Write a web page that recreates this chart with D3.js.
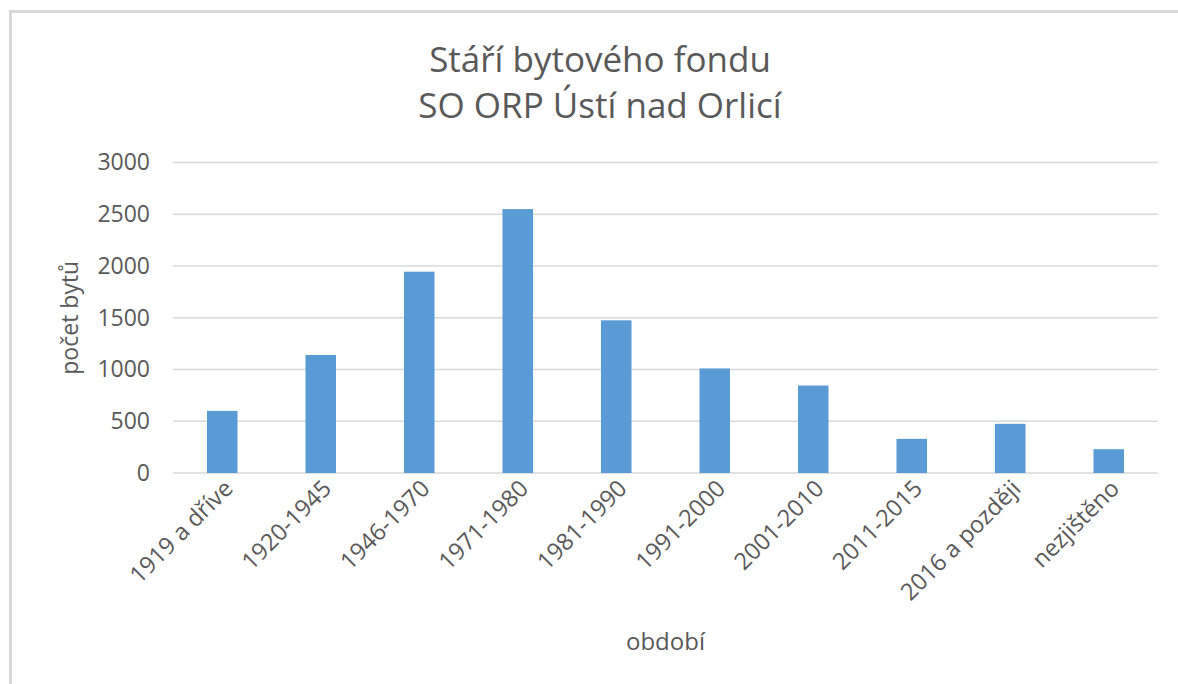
<!DOCTYPE html>
<html><head><meta charset="utf-8">
<script src="https://cdn.jsdelivr.net/npm/d3@7"></script>
<style>body{margin:0;background:#fff;} svg{display:block;} text{font-family:"Open Sans",sans-serif;fill:#595959;}</style>
</head><body>
<svg id="c" width="1178" height="684"></svg>
<script>
const categories = ["1919 a dříve","1920-1945","1946-1970","1971-1980","1981-1990","1991-2000","2001-2010","2011-2015","2016 a později","nezjištěno"];
const values = [600, 1140, 1945, 2550, 1475, 1010, 845, 330, 475, 230];
const yTicks = [0, 500, 1000, 1500, 2000, 2500, 3000];
const titleLines = ["Stáří bytového fondu", "SO ORP Ústí nad Orlicí"];
const yTitle = "počet bytů";
const xTitle = "období";

const svg = d3.select("#c");
svg.append("rect").attr("x",10.5).attr("y",11.5).attr("width",1200).attr("height",700)
  .attr("fill","#fff").attr("stroke","#d9d9d9").attr("stroke-width",3);

const L=173, R=1158, T=162.5, B=473;
const x = d3.scaleBand().domain(categories).range([L,R]).paddingInner(0.69).paddingOuter(0.345);
const y = d3.scaleLinear().domain([0,3000]).range([B,T]);

// gridlines
svg.append("g").selectAll("line").data(yTicks).join("line")
  .attr("x1",L).attr("x2",R).attr("y1",d=>y(d)).attr("y2",d=>y(d))
  .attr("stroke","#d9d9d9").attr("stroke-width",1.5);

// y axis labels
const yAxis = d3.axisLeft(y).tickValues(yTicks).tickSize(0).tickPadding(0).tickFormat(d3.format("d"));
const ya = svg.append("g").attr("transform",`translate(150,0)`).call(yAxis);
ya.select(".domain").remove();
ya.selectAll("text").attr("font-size",23).attr("fill","#595959").attr("font-family","Open Sans");

// bars
svg.append("g").selectAll("rect").data(values).join("rect")
  .attr("x",(d,i)=>x(categories[i])).attr("width",x.bandwidth())
  .attr("y",d=>y(d)).attr("height",d=>B-y(d))
  .attr("fill","#5b9bd5");

// x labels
const xAxis = d3.axisBottom(x).tickSize(0).tickPadding(0);
const xa = svg.append("g").attr("transform",`translate(0,${B})`).call(xAxis);
xa.select(".domain").remove();
xa.selectAll("text").attr("font-size",23.5).attr("fill","#595959").attr("font-family","Open Sans")
  .attr("text-anchor","end").attr("dy",0).attr("y",0)
  .attr("transform","translate(12,17) rotate(-45)");

// title
svg.append("text").attr("x",600).attr("y",72).attr("text-anchor","middle").attr("font-size",35).text(titleLines[0]);
svg.append("text").attr("x",600).attr("y",118).attr("text-anchor","middle").attr("font-size",35).text(titleLines[1]);

// axis titles
svg.append("text").attr("transform",`translate(78,${(T+B)/2}) rotate(-90)`).attr("text-anchor","middle").attr("font-size",23).text(yTitle);
svg.append("text").attr("x",(L+R)/2).attr("y",650).attr("text-anchor","middle").attr("font-size",24).text(xTitle);
</script>
</body></html>
